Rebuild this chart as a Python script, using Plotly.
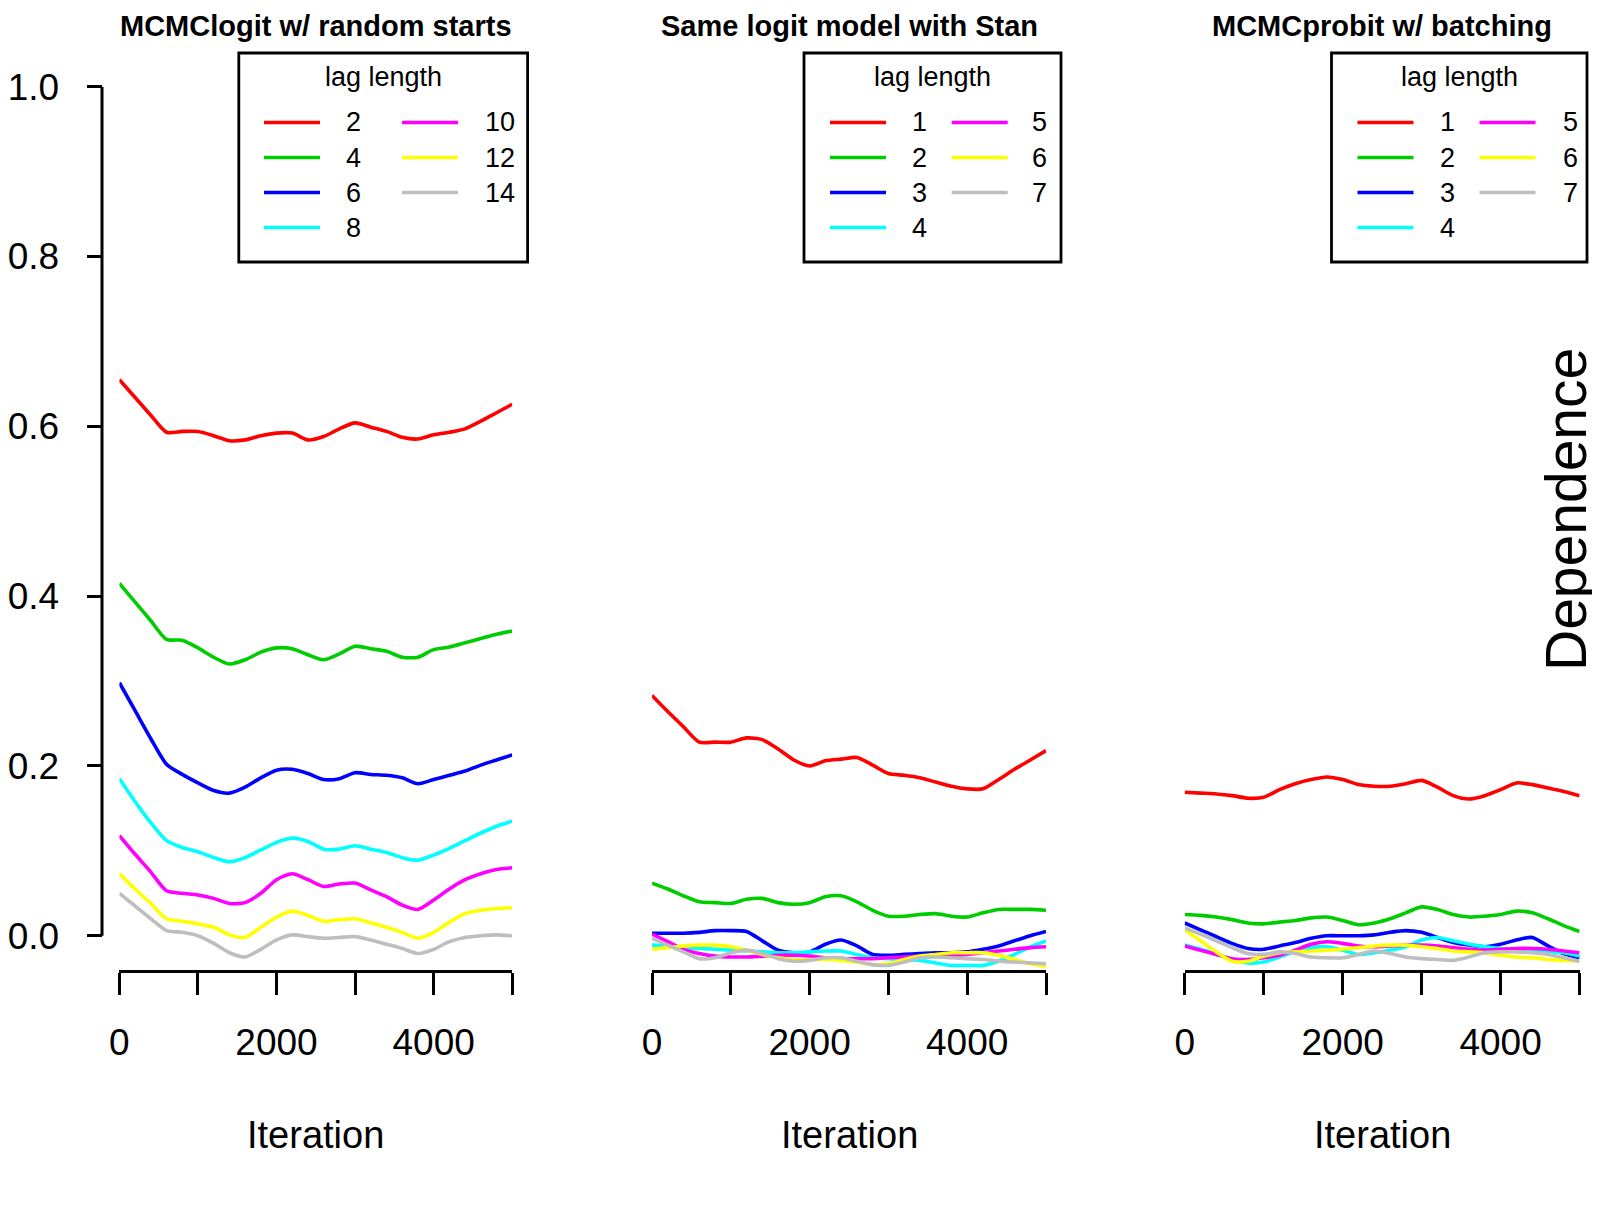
import plotly.graph_objects as go

# page body adds an 8px margin; the figure is sized so that the page does not overflow the window
OFF = 8
W, H = 1600 - OFF, 1209 - 2 * OFF

# ---------------- data ----------------
iters = list(range(0, 5001, 200))

colors = ["#FF0000", "#00CD00", "#0000FF", "#00FFFF", "#FF00FF", "#FFFF00", "#BEBEBE"]

p1_title = "MCMClogit w/ random starts"
p1_labels = ["2", "4", "6", "8", "10", "12", "14"]
p1_lag2 = [.655, .634, .613, .593, .594, .594, .589, .583, .584, .589, .592, .592, .584, .588,
           .597, .604, .599, .594, .587, .585, .590, .593, .597, .606, .616, .626]
p1_lag4 = [.415, .393, .371, .349, .348, .339, .328, .320, .325, .334, .339, .338, .331, .325,
           .332, .341, .338, .335, .328, .328, .337, .340, .345, .350, .355, .359]
p1_lag6 = [.298, .265, .232, .202, .190, .180, .171, .168, .175, .186, .195, .196, .191, .184,
           .185, .192, .190, .189, .186, .179, .184, .189, .194, .201, .207, .213]
p1_lag8 = [.185, .158, .133, .112, .104, .099, .092, .087, .092, .101, .110, .115, .111, .102,
           .102, .106, .102, .098, .092, .089, .095, .103, .112, .121, .129, .135]
p1_lag10 = [.118, .096, .075, .053, .050, .048, .044, .038, .039, .050, .066, .073, .066, .058,
            .061, .062, .054, .046, .036, .031, .042, .055, .066, .073, .078, .080]
p1_lag12 = [.073, .055, .038, .020, .017, .014, .010, .001, -.002, .010, .022, .029, .024, .017,
            .019, .020, .015, .010, .004, -.003, .004, .016, .026, .030, .032, .033]
p1_lag14 = [.050, .035, .020, .006, .004, .000, -.009, -.020, -.025, -.016, -.005, .001, -.001, -.003,
            -.002, -.001, -.005, -.010, -.015, -.021, -.016, -.007, -.002, .000, .001, .000]

p2_title = "Same logit model with Stan"
p2_labels = ["1", "2", "3", "4", "5", "6", "7"]
p2_lag1 = [.283, .264, .246, .228, .228, .228, .233, .231, .220, .207, .200, .206, .208, .210,
           .201, .191, .189, .186, .181, .176, .173, .173, .184, .196, .207, .218]
p2_lag2 = [.062, .055, .047, .040, .039, .038, .043, .044, .039, .037, .039, .046, .047, .040,
           .030, .023, .023, .025, .026, .023, .022, .027, .031, .031, .031, .030]
p2_lag3 = [.003, .003, .003, .004, .006, .006, .005, -.006, -.017, -.020, -.019, -.010, -.005, -.012,
           -.022, -.023, -.022, -.021, -.020, -.020, -.019, -.016, -.012, -.006, .000, .005]
p2_lag4 = [-.011, -.012, -.014, -.015, -.016, -.017, -.018, -.019, -.020, -.020, -.019, -.018, -.018, -.022,
           -.026, -.027, -.028, -.029, -.032, -.035, -.035, -.035, -.030, -.022, -.013, -.006]
p2_lag5 = [.002, -.007, -.016, -.021, -.024, -.025, -.025, -.024, -.023, -.023, -.024, -.026, -.027, -.027,
           -.027, -.026, -.025, -.024, -.023, -.023, -.022, -.020, -.018, -.016, -.014, -.013]
p2_lag6 = [-.016, -.014, -.012, -.011, -.011, -.013, -.017, -.022, -.026, -.028, -.028, -.028, -.029, -.031,
           -.034, -.033, -.028, -.024, -.022, -.020, -.020, -.020, -.023, -.028, -.033, -.036]
p2_lag7 = [-.003, -.011, -.019, -.027, -.026, -.020, -.017, -.021, -.027, -.030, -.029, -.026, -.026, -.030,
           -.034, -.035, -.031, -.026, -.025, -.026, -.027, -.028, -.030, -.031, -.032, -.033]

p3_title = "MCMCprobit w/ batching"
p3_labels = ["1", "2", "3", "4", "5", "6", "7"]
p3_lag1 = [.169, .168, .167, .165, .162, .163, .172, .179, .184, .187, .184, .178, .176, .176,
           .179, .183, .175, .165, .161, .165, .172, .180, .178, .174, .170, .165]
p3_lag2 = [.025, .024, .022, .019, .015, .014, .016, .018, .021, .022, .018, .013, .015, .020,
           .027, .034, .031, .025, .022, .023, .025, .029, .027, .020, .012, .005]
p3_lag3 = [.015, .007, -.001, -.009, -.015, -.016, -.012, -.008, -.003, .000, .000, .000, .001, .004,
           .006, .004, -.002, -.008, -.011, -.013, -.010, -.005, -.002, -.012, -.021, -.026]
p3_lag4 = [-.011, -.016, -.022, -.028, -.032, -.031, -.025, -.019, -.014, -.013, -.017, -.022, -.020, -.017,
           -.013, -.005, -.002, -.006, -.010, -.013, -.015, -.017, -.018, -.019, -.020, -.024]
p3_lag5 = [-.012, -.017, -.022, -.027, -.028, -.026, -.023, -.017, -.010, -.007, -.009, -.012, -.013, -.012,
           -.011, -.011, -.012, -.014, -.016, -.017, -.016, -.015, -.015, -.016, -.018, -.020]
p3_lag6 = [.007, -.006, -.019, -.030, -.030, -.024, -.020, -.019, -.018, -.017, -.016, -.014, -.012, -.011,
           -.011, -.013, -.015, -.018, -.019, -.020, -.023, -.025, -.026, -.028, -.029, -.030]
p3_lag7 = [.009, .002, -.006, -.014, -.021, -.022, -.019, -.021, -.025, -.026, -.026, -.022, -.018, -.021,
           -.025, -.027, -.028, -.029, -.025, -.020, -.019, -.019, -.020, -.022, -.026, -.030]

x_ticks = [0, 1000, 2000, 3000, 4000, 5000]
x_ticktext = ["0", "", "2000", "", "4000", ""]
y_ticks = [0.0, 0.2, 0.4, 0.6, 0.8, 1.0]
y_ticktext = ["0.0", "0.2", "0.4", "0.6", "0.8", "1.0"]
x_label = "Iteration"
y_label = "Dependence"
legend_title = "lag length"

panels = [
    dict(title=p1_title, labels=p1_labels,
         series=[p1_lag2, p1_lag4, p1_lag6, p1_lag8, p1_lag10, p1_lag12, p1_lag14]),
    dict(title=p2_title, labels=p2_labels,
         series=[p2_lag1, p2_lag2, p2_lag3, p2_lag4, p2_lag5, p2_lag6, p2_lag7]),
    dict(title=p3_title, labels=p3_labels,
         series=[p3_lag1, p3_lag2, p3_lag3, p3_lag4, p3_lag5, p3_lag6, p3_lag7]),
]

# ---------------- layout geometry (window pixels) ----------------
FONT = "Liberation Sans, Arial, Helvetica, sans-serif"
panel_px = [(119.4, 512.2), (652.0, 1046.0), (1184.7, 1579.6)]
y_top_px, y_bot_px = 86.7, 969.7          # 1.0 and -0.04
yaxis_x_px = 102.0

# legend boxes: (box_left, box_right, col1_line_x0, col1_text_x, col2_line_x0, col2_text_x)
legend_px = [
    (238.8, 527.6, 264.0, 343.5, 402.0, 483.0),
    (804.0, 1061.0, 830.0, 909.5, 951.7, 1030.0),
    (1331.5, 1587.0, 1357.5, 1438.0, 1479.5, 1561.0),
]
leg_top, leg_bot = 53.0, 262.0
leg_rows = [122.5, 157.5, 192.5, 227.5]
leg_line_len = 56.0


def px(x):
    return (x - OFF) / W


def py(y):
    return 1 - (y - OFF) / H


fig = go.Figure()

shapes = []
annotations = []

for i, p in enumerate(panels):
    xa = "x" if i == 0 else f"x{i+1}"
    for s, col in zip(p["series"], colors):
        fig.add_trace(go.Scatter(
            x=iters, y=s, xaxis=xa, yaxis="y", mode="lines",
            line=dict(color=col, width=3.6, shape="spline", smoothing=0.7),
            showlegend=False, hoverinfo="skip"))

    x0, x1 = panel_px[i]
    cx = (x0 + x1) / 2
    annotations.append(dict(text=f"<b>{p['title']}</b>", x=px(cx), y=py(26.5), xref="paper", yref="paper",
                            showarrow=False, xanchor="center", yanchor="middle",
                            font=dict(family=FONT, size=29, color="black")))
    annotations.append(dict(text=x_label, x=px(cx), y=py(1135), xref="paper", yref="paper",
                            showarrow=False, xanchor="center", yanchor="middle",
                            font=dict(family=FONT, size=38, color="black")))

    bl, br, c1l, c1t, c2l, c2t = legend_px[i]
    shapes.append(dict(type="rect", xref="paper", yref="paper", x0=px(bl), x1=px(br),
                       y0=py(leg_bot), y1=py(leg_top), line=dict(color="black", width=2.8),
                       fillcolor="white", layer="above"))
    annotations.append(dict(text=legend_title, x=px((bl + br) / 2), y=py(76.5), xref="paper", yref="paper",
                            showarrow=False, xanchor="center", yanchor="middle",
                            font=dict(family=FONT, size=27, color="black")))
    for k, (lab, col) in enumerate(zip(p["labels"], colors)):
        if k < 4:
            lx, tx, ry = c1l, c1t, leg_rows[k]
        else:
            lx, tx, ry = c2l, c2t, leg_rows[k - 4]
        shapes.append(dict(type="line", xref="paper", yref="paper", x0=px(lx), x1=px(lx + leg_line_len),
                           y0=py(ry), y1=py(ry), line=dict(color=col, width=3.4), layer="above"))
        annotations.append(dict(text=lab, x=px(tx), y=py(ry), xref="paper", yref="paper",
                                showarrow=False, xanchor="left", yanchor="middle",
                                font=dict(family=FONT, size=27, color="black")))

annotations.append(dict(text=y_label, x=px(1566), y=py(510), xref="paper", yref="paper",
                        showarrow=False, xanchor="center", yanchor="middle", textangle=-90,
                        font=dict(family=FONT, size=57, color="black")))

# y-axis line spanning only 0..1 (R style)
shapes.append(dict(type="line", xref="paper", yref="y", x0=px(yaxis_x_px), x1=px(yaxis_x_px),
                   y0=0, y1=1, line=dict(color="black", width=3)))

xaxis_common = dict(range=[0, 5000], anchor="y", showline=True, linecolor="black", linewidth=3,
                    ticks="outside", ticklen=22, tickwidth=3, tickcolor="black",
                    tickmode="array", tickvals=x_ticks, ticktext=x_ticktext,
                    tickfont=dict(family=FONT, size=37, color="black"),
                    ticklabelstandoff=16,
                    showgrid=False, zeroline=False, fixedrange=True)

layout = dict(
    width=W, height=H,
    margin=dict(l=0, r=0, t=0, b=0, autoexpand=False),
    paper_bgcolor="white", plot_bgcolor="white",
    showlegend=False,
    shapes=shapes, annotations=annotations,
    yaxis=dict(domain=[py(y_bot_px), py(y_top_px)], range=[-0.04, 1.0], anchor="free",
               position=px(yaxis_x_px), showline=False, ticks="outside", ticklen=15.5,
               tickwidth=3, tickcolor="black", tickmode="array", tickvals=y_ticks,
               ticktext=y_ticktext, tickfont=dict(family=FONT, size=37, color="black"),
               ticklabelstandoff=20, showgrid=False, zeroline=False, fixedrange=True),
)
for i, (x0, x1) in enumerate(panel_px):
    key = "xaxis" if i == 0 else f"xaxis{i+1}"
    layout[key] = dict(domain=[px(x0), px(x1)], **xaxis_common)

fig.update_layout(**layout)
fig.write_html("out.html")
